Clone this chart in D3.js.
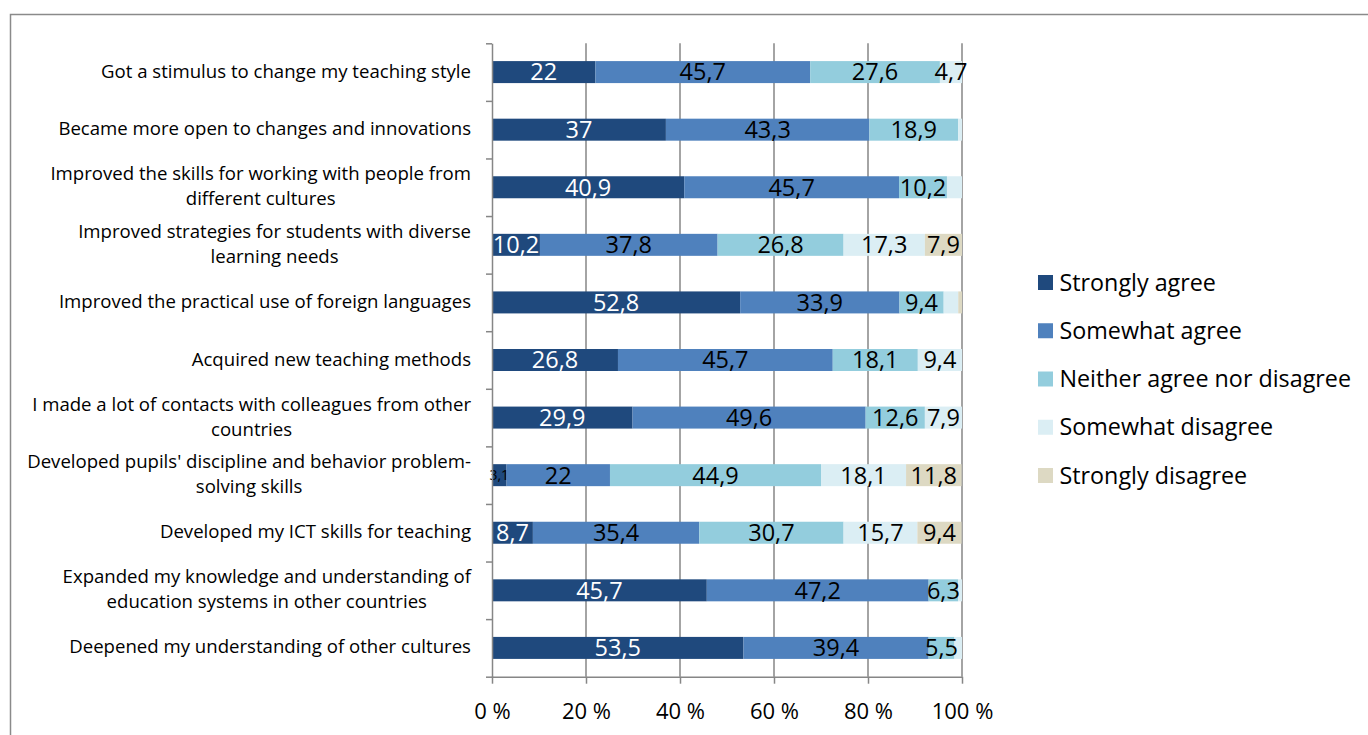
<!DOCTYPE html>
<html>
<head>
<meta charset="utf-8">
<script src="https://cdn.jsdelivr.net/npm/d3@7"></script>
<style>
  html, body { margin: 0; padding: 0; background: #fff; }
  svg { display: block; }
  text { font-family: "Open Sans", "Noto Sans", sans-serif; fill: #000; }
</style>
</head>
<body>
<svg id="chart" width="1368" height="735"></svg>
<script>
// Survey statements (top to bottom); "\n" marks a line break in the label
const categories = [
  "Got a stimulus to change my teaching style",
  "Became more open to changes and innovations",
  "Improved the skills for working with people from\ndifferent cultures",
  "Improved strategies for students with diverse\nlearning needs",
  "Improved the practical use of foreign languages",
  "Acquired new teaching methods",
  "I made a lot of contacts with colleagues from other\ncountries",
  "Developed pupils' discipline and behavior problem-\nsolving skills",
  "Developed my ICT skills for teaching",
  "Expanded my knowledge and understanding of\neducation systems in other countries",
  "Deepened my understanding of other cultures"
];

const seriesNames = [
  "Strongly agree",
  "Somewhat agree",
  "Neither agree nor disagree",
  "Somewhat disagree",
  "Strongly disagree"
];

// Percentages per answer, one value per statement
const stronglyAgree    = [22, 37, 40.9, 10.2, 52.8, 26.8, 29.9, 3.1, 8.7, 45.7, 53.5];
const somewhatAgree    = [45.7, 43.3, 45.7, 37.8, 33.9, 45.7, 49.6, 22, 35.4, 47.2, 39.4];
const neither          = [27.6, 18.9, 10.2, 26.8, 9.4, 18.1, 12.6, 44.9, 30.7, 6.3, 5.5];
const somewhatDisagree = [4.7, 0.8, 3.2, 17.3, 3.1, 9.4, 7.9, 18.1, 15.7, 0.8, 1.6];
const stronglyDisagree = [0, 0, 0, 7.9, 0.8, 0, 0, 11.8, 9.4, 0, 0];

// Segments whose value label is not shown: [statement index, answer index]
const unlabeled = [[1, 3], [2, 3], [4, 3], [4, 4], [9, 3], [10, 3]];

const xTicks = [0, 20, 40, 60, 80, 100];

const colors = ["#1f497d", "#4f81bd", "#93cddd", "#dbeef4", "#ddd9c3"];

const seriesValues = [stronglyAgree, somewhatAgree, neither, somewhatDisagree, stronglyDisagree];

const svg = d3.select("#chart");
const axisGray = "#868686";

// outer chart frame
svg.append("rect")
  .attr("x", 10.5).attr("y", 14.5)
  .attr("width", 1400).attr("height", 800)
  .attr("fill", "none")
  .attr("stroke", "#8a8a8a")
  .attr("stroke-width", 1.5);

const plot = { left: 492, right: 962, top: 43.3, bottom: 676.7 };

const x = d3.scaleLinear().domain([0, 100]).range([plot.left, plot.right]);
const y = d3.scaleBand()
  .domain(d3.range(categories.length))
  .range([plot.top, plot.bottom])
  .paddingInner(0.618)
  .paddingOuter(0.309);

// vertical gridlines
svg.append("g")
  .selectAll("line")
  .data(xTicks.filter(d => d > 0))
  .join("line")
  .attr("x1", d => x(d)).attr("x2", d => x(d))
  .attr("y1", plot.top).attr("y2", plot.bottom)
  .attr("stroke", axisGray)
  .attr("stroke-width", 1.5);

// stack the answers per statement
const rows = categories.map((c, i) => {
  const r = { index: i };
  seriesNames.forEach((s, k) => { r[s] = seriesValues[k][i]; });
  return r;
});
const stacked = d3.stack().keys(seriesNames)(rows);

const isHidden = (i, k) => unlabeled.some(([a, b]) => a === i && b === k);
const locale = d3.formatLocale({ decimal: ",", thousands: " ", grouping: [3], currency: ["", ""] });
const fmt = locale.format(".3~r");

const layers = svg.append("g")
  .selectAll("g")
  .data(stacked)
  .join("g")
  .attr("fill", (d, k) => colors[k]);

layers.selectAll("rect")
  .data(d => d.filter(p => p[1] - p[0] > 0))
  .join("rect")
  .attr("x", p => x(p[0]))
  .attr("y", p => y(p.data.index))
  .attr("width", p => x(p[1]) - x(p[0]))
  .attr("height", y.bandwidth());

// value labels
const labelG = svg.append("g");
stacked.forEach((layer, k) => {
  layer.forEach(p => {
    const v = p[1] - p[0];
    const i = p.data.index;
    if (v <= 0 || isHidden(i, k)) return;
    const small = v < 4;
    labelG.append("text")
      .attr("x", x((p[0] + p[1]) / 2))
      .attr("y", y(i) + y.bandwidth() / 2 + (small ? 5 : 8.4))
      .attr("text-anchor", "middle")
      .style("font-size", small ? "14px" : "23.5px")
      .style("fill", (k === 0 && !small) ? "#fff" : "#000")
      .text(fmt(v));
  });
});

// left axis with ticks at category boundaries
const yEdges = d3.scaleLinear().domain([0, categories.length]).range([plot.top, plot.bottom]);
const leftAxis = svg.append("g")
  .attr("transform", `translate(${plot.left},0)`)
  .call(d3.axisLeft(yEdges).tickValues(d3.range(categories.length + 1)).tickSize(6).tickSizeOuter(0).tickFormat(""));
leftAxis.select(".domain").attr("stroke", axisGray).attr("stroke-width", 1.5);
leftAxis.selectAll(".tick line").attr("stroke", axisGray).attr("stroke-width", 1.5);

// bottom axis
const bottomAxis = svg.append("g")
  .attr("transform", `translate(0,${plot.bottom})`)
  .call(d3.axisBottom(x).tickValues(xTicks).tickSize(7).tickSizeOuter(0).tickPadding(20).tickFormat(d => d + " %"));
bottomAxis.select(".domain").attr("stroke", axisGray).attr("stroke-width", 1.5);
bottomAxis.selectAll(".tick line").attr("stroke", axisGray).attr("stroke-width", 1.5);
bottomAxis.selectAll(".tick text")
  .attr("fill", "#000")
  .style("font-family", '"Open Sans", "Noto Sans", sans-serif')
  .style("font-size", "22px");

// category labels: block right-aligned, lines centred within the block
const catG = svg.append("g");
const lineHeight = 25;
categories.forEach((c, i) => {
  const lines = c.split("\n");
  const cy = y(i) + y.bandwidth() / 2;
  const t = catG.append("text").style("font-size", "18.6px");
  const spans = lines.map((ln, j) =>
    t.append("tspan")
      .attr("y", cy + 5.5 + (j - (lines.length - 1) / 2) * lineHeight)
      .text(ln));
  const widths = spans.map(s => s.node().getComputedTextLength());
  const w = d3.max(widths);
  const cx = 471 - w / 2;
  spans.forEach(s => s.attr("x", cx).attr("text-anchor", "middle"));
});

// legend
const legend = svg.append("g")
  .selectAll("g")
  .data(seriesNames)
  .join("g")
  .attr("transform", (d, k) => `translate(1038,${282.5 + k * 48.25})`);
legend.append("rect")
  .attr("x", 0).attr("y", -7.5)
  .attr("width", 15).attr("height", 15)
  .attr("fill", (d, k) => colors[k]);
legend.append("text")
  .attr("x", 21.5).attr("y", 8)
  .style("font-size", "23.3px")
  .text(d => d);
</script>
</body>
</html>
